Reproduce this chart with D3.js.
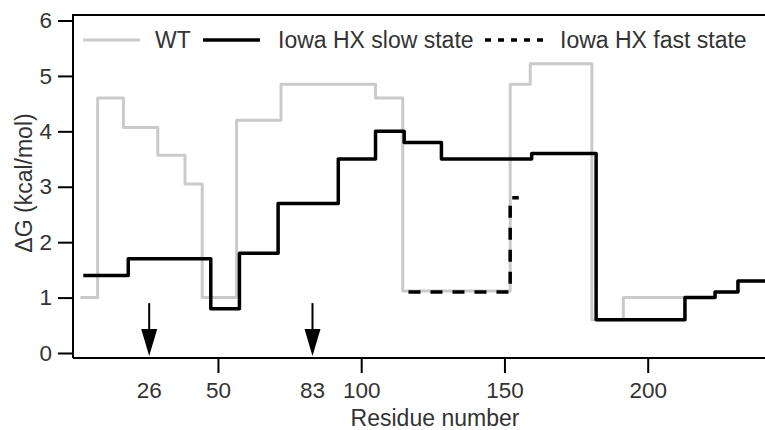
<!DOCTYPE html>
<html>
<head>
<meta charset="utf-8">
<script src="https://cdn.jsdelivr.net/npm/d3@7"></script>
<style>
  body { margin: 0; background: #fff; }
  text { font-family: "Liberation Sans", Arial, sans-serif; fill: #333; }
</style>
</head>
<body>
<svg></svg>
<script>
// step profiles: residue where each level starts, and its dG (kcal/mol)
const wtResidues = [2, 8, 17, 29, 38.5, 44.5, 56.5, 72, 105, 114.5, 152, 159, 180.5, 191.5, 213, 223.5, 231.5, 242];
const wtValues   = [1.0, 4.6, 4.07, 3.57, 3.05, 1.0, 4.2, 4.85, 4.6, 1.12, 4.85, 5.22, 0.6, 1.0, 1.0, 1.1, 1.3, 1.3];

const slowResidues = [3, 18.7, 47.5, 57.5, 71, 92, 105, 115, 128, 159.5, 182, 213, 223.5, 231.5, 242];
const slowValues   = [1.4, 1.7, 0.8, 1.8, 2.7, 3.5, 4.0, 3.8, 3.5, 3.6, 0.6, 1.0, 1.1, 1.3, 1.3];

const fastResidues = [116.5, 152, 155];
const fastValues   = [1.1, 2.8, 2.8];

const arrowResidues = [26, 83];
const xTicks = [50, 100, 150, 200];
const yTicks = [0, 1, 2, 3, 4, 5, 6];

const legendNames = ['WT', 'Iowa HX slow state', 'Iowa HX fast state'];

var width = 765, height = 430;

const xScale = d3.scaleLinear()
    .domain([0, 200])
    .range([74.7, 647.7]);

const yScale = d3.scaleLinear()
    .domain([0, 6])
    .range([353, 20.5]);

const svg = d3.select('svg')
    .attr('width', width)
    .attr('height', height);

const zip = (xs, ys) => xs.map((r, i) => ({r: r, v: ys[i]}));

const line = d3.line()
    .x(d => xScale(d.r))
    .y(d => yScale(d.v))
    .curve(d3.curveStepAfter);

// plot frame (top and left, bottom is the x axis line)
svg.append('path')
    .attr('d', 'M73,358 L73,15 L767,15')
    .attr('fill', 'none')
    .attr('stroke', '#000')
    .attr('stroke-width', 2);

// y axis ticks + labels
const yAxis = svg.append('g')
    .attr('transform', 'translate(73,0)')
    .call(d3.axisLeft(yScale).tickValues(yTicks).tickSize(15).tickPadding(6).tickFormat(d3.format('d')));
yAxis.select('.domain').remove();
yAxis.selectAll('line').attr('stroke', '#000').attr('stroke-width', 2);
yAxis.selectAll('text')
    .attr('font-size', 22.5)
    .attr('font-family', null)
    .attr('fill', '#333');

// x axis
const xAxis = svg.append('g')
    .attr('transform', 'translate(0,358)')
    .call(d3.axisBottom(xScale).tickValues(xTicks).tickSize(15).tickPadding(9).tickSizeOuter(0));
xAxis.select('.domain')
    .attr('d', 'M73,0H767')
    .attr('stroke', '#000')
    .attr('stroke-width', 2);
xAxis.selectAll('line').attr('stroke', '#000').attr('stroke-width', 2);
xAxis.selectAll('text')
    .attr('font-size', 22.5)
    .attr('font-family', null)
    .attr('fill', '#333');

// extra labels under the arrows (no tick)
svg.selectAll('.arrow-label')
    .data(arrowResidues)
    .enter()
    .append('text')
    .classed('arrow-label', true)
    .attr('x', d => xScale(d))
    .attr('y', 398)
    .attr('text-anchor', 'middle')
    .attr('font-size', 22.5)
    .text(d => d);

// axis titles
svg.append('text')
    .attr('x', 435)
    .attr('y', 426)
    .attr('text-anchor', 'middle')
    .attr('font-size', 23)
    .text('Residue number');

svg.append('text')
    .attr('transform', 'translate(32,183) rotate(-90)')
    .attr('text-anchor', 'middle')
    .attr('font-size', 23)
    .text('\u0394G (kcal/mol)');

// series
svg.append('path')
    .datum(zip(wtResidues, wtValues))
    .attr('d', line)
    .attr('fill', 'none')
    .attr('stroke', '#cacaca')
    .attr('stroke-width', 3)
    .attr('stroke-linejoin', 'round');

svg.append('path')
    .datum(zip(slowResidues, slowValues))
    .attr('d', line)
    .attr('fill', 'none')
    .attr('stroke', '#000')
    .attr('stroke-width', 3.5)
    .attr('stroke-linejoin', 'round');

svg.append('path')
    .datum(zip(fastResidues, fastValues))
    .attr('d', line)
    .attr('fill', 'none')
    .attr('stroke', '#000')
    .attr('stroke-width', 3.5)
    .attr('stroke-dasharray', '12,10');

// arrows
const arrows = svg.selectAll('.arrow')
    .data(arrowResidues)
    .enter()
    .append('g')
    .classed('arrow', true)
    .attr('transform', d => 'translate(' + xScale(d) + ',0)');
arrows.append('line')
    .attr('y1', yScale(0.9))
    .attr('y2', yScale(0) - 20)
    .attr('stroke', '#000')
    .attr('stroke-width', 2);
arrows.append('path')
    .attr('d', 'M-8,' + (yScale(0) - 24) + ' L8,' + (yScale(0) - 24) + ' L0,' + (yScale(0) + 3) + ' Z')
    .attr('fill', '#000');

// legend
const legend = [
    {name: legendNames[0], x1: 83, x2: 140, tx: 155, color: '#cacaca', w: 3, dash: null},
    {name: legendNames[1], x1: 203, x2: 260, tx: 278, color: '#000', w: 3.5, dash: null},
    {name: legendNames[2], x1: 485, x2: 545, tx: 560, color: '#000', w: 3.5, dash: '6,7'}
];
const lg = svg.selectAll('.legend')
    .data(legend)
    .enter()
    .append('g')
    .classed('legend', true);
lg.append('line')
    .attr('x1', d => d.x1)
    .attr('x2', d => d.x2)
    .attr('y1', 40)
    .attr('y2', 40)
    .attr('stroke', d => d.color)
    .attr('stroke-width', d => d.w)
    .attr('stroke-dasharray', d => d.dash);
lg.append('text')
    .attr('x', d => d.tx)
    .attr('y', 47.5)
    .attr('font-size', 23)
    .text(d => d.name);
</script>
</body>
</html>
